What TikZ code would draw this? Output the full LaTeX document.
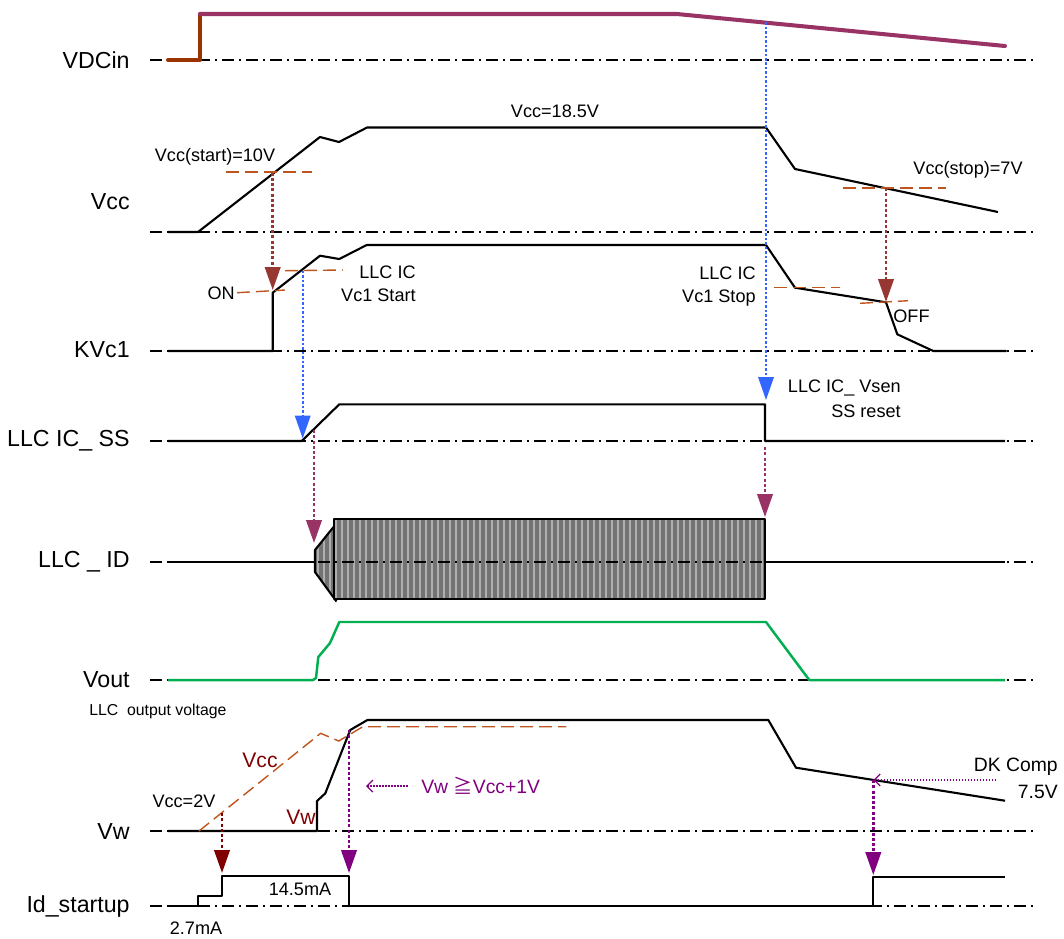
\documentclass[tikz,border=0pt]{standalone}
\usepackage{fontspec}
\setmainfont{Liberation Sans}
\newfontfamily\jpfont{Noto Sans CJK JP}
\usetikzlibrary{arrows.meta}
\definecolor{dcbrown}{RGB}{153,51,0}
\definecolor{dcplum}{RGB}{153,51,102}
\definecolor{refbrown}{RGB}{190,85,30}
\definecolor{arrred}{RGB}{150,55,50}
\definecolor{arrblue}{RGB}{51,102,255}
\definecolor{vgreen}{RGB}{0,176,80}
\definecolor{darkred}{RGB}{128,0,0}
\definecolor{vpurple}{RGB}{128,0,128}
\definecolor{stripdark}{RGB}{115,115,115}
\definecolor{striplight}{RGB}{175,175,175}
\tikzset{
	axisline/.style={line width=0.6pt, dash pattern=on 0.24cm off 0.1cm on 0.04cm off 0.1cm},
	wave/.style={line width=1.2pt, line join=round},
	refdash/.style={refbrown, line width=0.8pt, dash pattern=on 0.26cm off 0.12cm},
	droparrow/.style={line width=1.4pt, dash pattern=on 0.06cm off 0.045cm, -{Triangle[width=0.31cm,length=0.46cm]}},
	siglabel/.style={anchor=east, inner sep=0pt, font=\fontsize{13.2}{16}\selectfont},
	note/.style={font=\fontsize{10.3}{13}\selectfont, inner sep=0pt},
}

\begin{document}
\begin{tikzpicture}[x=0.02cm, y=-0.02cm]
		%%%%% START %%%%%
		\useasboundingbox (0,0) rectangle (1064,938);
		
		% LLC_ID burst
		\begin{scope}
			\clip (315,550) -- (334.3,526) -- (334.3,519.3) -- (765,519.3) -- (765,599.3) -- (336.5,599.3) -- (315,572) -- cycle;
			\fill[stripdark] (310,515) rectangle (770,605);
			\foreach \x in {318,324,...,762}
				\draw[striplight, line width=1.5pt] (\x,515) -- (\x,605);
		\end{scope}
		
		\foreach \y in {60,232,351,441,562,680,831,906}
			\draw[axisline] (150,\y) -- (1035,\y);
		
		\node[siglabel] (lvdc) at (130,60) {VDCin};
		\node[siglabel] (lvcc) at (130,202) {Vcc};
		\node[siglabel] (lkvc) at (130,350) {KVc1};
		\node[siglabel] (lss) at (130,441) {LLC IC\_ SS};
		\node[siglabel] (lid) at (130,562) {LLC \_ ID};
		\node[siglabel] (lvout) at (130,680) {Vout};
		\node[siglabel] (lvw) at (130,831) {Vw};
		\node[siglabel] (lidst) at (130,906) {Id\_startup};
		
		% VDCin
		\draw[dcbrown, line width=2.3pt, line cap=round, line join=round] (168,60) -- (200,60) -- (200,14);
		\draw[dcplum, line width=2.3pt, line cap=round] (200,14) -- (677,14) -- (1005,46);
		
		% Vcc
		\draw[wave] (168,232) -- (198,232) -- (320,137) -- (339,142) -- (367,127.5) -- (766,127.5) -- (795,169) -- (998,212);
		\draw[refdash] (226,172) -- (312,172);
		\draw[refdash] (843,188) -- (946,188);
		
		% KVc1
		\draw[wave] (168,351) -- (272.7,351) -- (272.7,292.7) -- (320,255.7) -- (339.3,259) -- (366.7,245) -- (766,245) -- (795,287.7) -- (886,302.3) -- (897.3,334.3) -- (933.3,351) -- (1006.7,351);
		\draw[refdash] (237,292.7) -- (285,290);
		\draw[refdash] (285,270.7) -- (343,270);
		\draw[refdash] (774,287.7) -- (840,287.7);
		\draw[refdash] (860,303.3) -- (908,300.7);
		
		% LLC IC_SS
		\draw[wave] (168,441) -- (301.7,441) -- (339.3,404.3) -- (765,404.3) -- (765,441) -- (1005,441);
		
		% LLC_ID
		\draw[wave] (168,562) -- (315,562);
		\draw[wave] (765,562) -- (1005,562);
		\draw[wave] (334.3,526) -- (315,550) -- (315,572) -- (336.5,601.5);
		\draw[wave] (334.3,519.3) rectangle (765,599.3);
		
		% Vout
		\draw[vgreen, line width=1.4pt, line join=round] (168,680) -- (313,680) -- (316,678) -- (318.3,657) -- (330,643) -- (339.3,622) -- (766,622) -- (809.3,680) -- (1005,680);
		
		% Vw
		\draw[wave] (168,831) -- (317,831) -- (317,801) -- (325.3,793.3) -- (350.2,730) -- (367.4,720) -- (768.3,720) -- (796,767.7) -- (1005,800.7);
		\draw[refdash] (199,831) -- (320.7,733.3) -- (338.7,741) -- (362.8,726.7) -- (566.4,726.7);
		
		% Id_startup
		\draw[wave] (168,906) -- (198,906) -- (198,896) -- (222,896) -- (222,876) -- (349,876) -- (349,906) -- (873.3,906) -- (873.3,877) -- (1005,877);
		
		% drop arrows
		\coordinate (vccon) at (272.7,172.5);
		\coordinate (kvcon) at (272.7,290);
		\coordinate (vccoff) at (886,188);
		\coordinate (kvcoff) at (886,302);
		\coordinate (startsrc) at (302.7,270.7);
		\coordinate (ssstart) at (302.7,438.5);
		\coordinate (vdcsrc) at (766,22);
		\coordinate (ssreset) at (766,400);
		\coordinate (ssrise) at (314,430);
		\coordinate (idstart) at (314,543);
		\coordinate (ssfall) at (765,447);
		\coordinate (idstop) at (765,517);
		\coordinate (vcctwo) at (222,813);
		\coordinate (idlow) at (222,873);
		\coordinate (vwcross) at (349,730);
		\coordinate (idoff) at (349,873);
		\coordinate (dkcross) at (873.3,780);
		\coordinate (dkend) at (997,780);
		\coordinate (idhigh) at (873.3,875);
		
		\draw[droparrow, arrred] (vccon) -- (kvcon);
		\draw[droparrow, arrred] (vccoff) -- (kvcoff);
		\draw[droparrow, arrblue, line width=1.1pt, dash pattern=on 0.05cm off 0.04cm] (startsrc) -- (ssstart);
		\draw[droparrow, arrblue, line width=1.1pt, dash pattern=on 0.05cm off 0.04cm] (vdcsrc) -- (ssreset);
		\draw[droparrow, dcplum] (ssrise) -- (idstart);
		\draw[droparrow, dcplum] (ssfall) -- (idstop);
		\draw[droparrow, darkred] (vcctwo) -- (idlow);
		\draw[droparrow, vpurple] (vwcross) -- (idoff);
		\draw[droparrow, vpurple] (dkcross) -- (idhigh);
		\draw[vpurple, line width=0.7pt, dash pattern=on 0.03cm off 0.03cm, {Straight Barb[length=0.12cm,width=0.24cm]}-] (dkcross) -- (dkend);
		
		% notes
		\node[note] (vccrun) at (555,111) {Vcc=18.5V};
		\node[note] (vccstart) at (215,157) {Vcc(start)=10V};
		\node[note] (vccstop) at (968,170) {Vcc(stop)=7V};
		\node[note, anchor=east] (onlbl) at (235,293) {ON};
		\node[note, anchor=east] (startlbla) at (416,272) {LLC IC};
		\node[note, anchor=east] (startlblb) at (416,295) {Vc1 Start};
		\node[note, anchor=east] (stoplbla) at (756,273) {LLC IC};
		\node[note, anchor=east] (stoplblb) at (756,298) {Vc1 Stop};
		\node[note, anchor=west] (offlbl) at (893,316) {OFF};
		\node[note, anchor=east] (vsenlbla) at (901,388) {LLC IC\_ Vsen};
		\node[note, anchor=east] (vsenlblb) at (901,411.5) {SS reset};
		\node[note, anchor=west, font=\fontsize{9}{11}\selectfont] (outlbl) at (89,711) {LLC\ \ output voltage};
		\node[note, darkred, font=\fontsize{12}{14}\selectfont] (vcclbl) at (260,760) {Vcc};
		\node[note, darkred, font=\fontsize{12}{14}\selectfont] (vwlbl) at (301,817) {Vw};
		\node[note] (vcctwolbl) at (184,801) {Vcc=2V};
		\node[note, vpurple, anchor=west, font=\fontsize{11}{13}\selectfont] (vwcond) at (421,786) {Vw {\jpfont ≧}Vcc+1V};
		\coordinate (condhead) at (366,786);
		\coordinate (condtail) at (409,786);
		\draw[vpurple, line width=0.7pt, dash pattern=on 0.03cm off 0.03cm, {Straight Barb[length=0.12cm,width=0.24cm]}-] (condhead) -- (condtail);
		\node[note] (highlbl) at (300,889) {14.5mA};
		\node[note] (lowlbl) at (196,928) {2.7mA};
		\node[note, anchor=east, font=\fontsize{11}{13}\selectfont] (dklbla) at (1058,767) {DK\ Comp};
		\node[note, anchor=east, font=\fontsize{11}{13}\selectfont] (dklblb) at (1058,792) {7.5V};
		
		%%%%% END %%%%%
\end{tikzpicture}
\end{document}
